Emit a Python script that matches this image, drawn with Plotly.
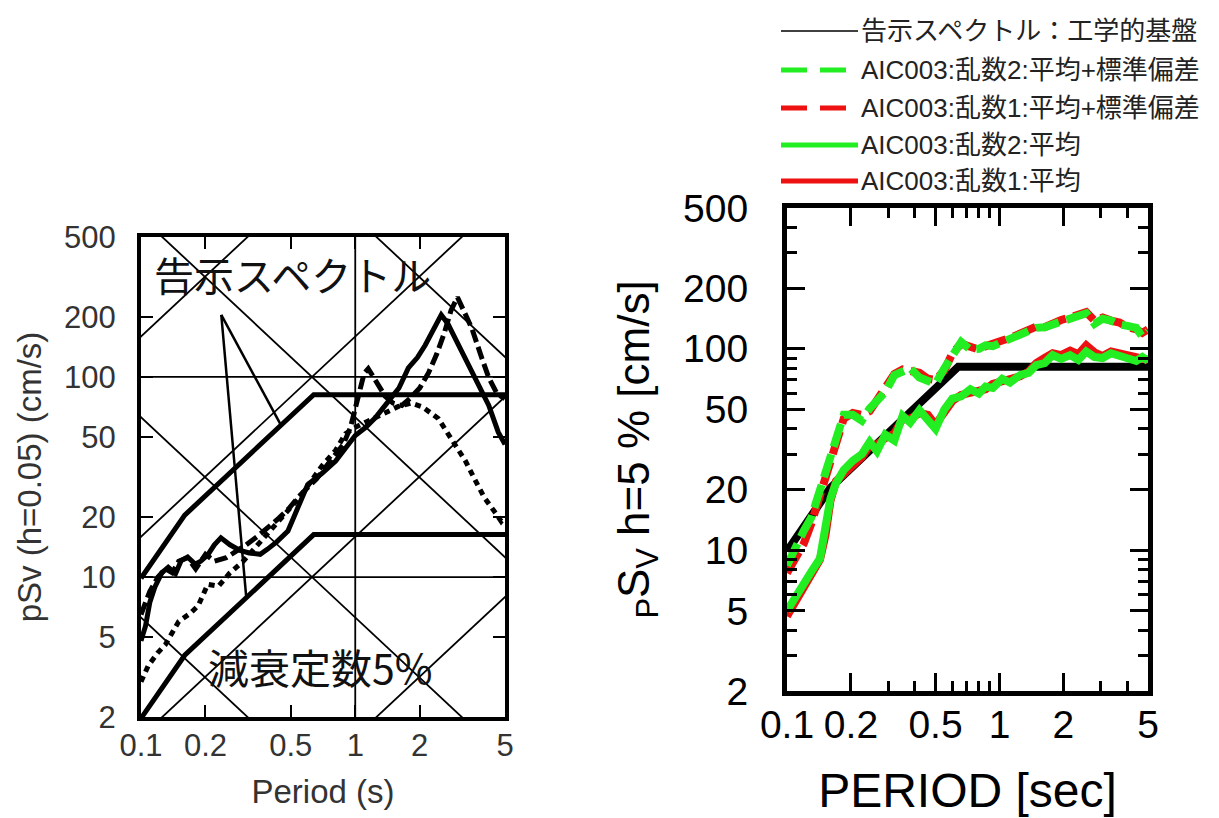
import math
import plotly.graph_objects as go

# ---------------- data: left panel (observed spectra, black) ----------------
T_L_SOLID = [0.1, 0.105, 0.11, 0.116, 0.125, 0.134, 0.145, 0.154, 0.165, 0.179, 0.19, 0.205,
             0.22, 0.236, 0.26, 0.29, 0.32, 0.36, 0.39, 0.43, 0.485, 0.54, 0.6, 0.7, 0.81, 0.9,
             1.0, 1.12, 1.24, 1.35, 1.47, 1.6, 1.77, 1.95, 2.12, 2.3, 2.52, 2.7, 3.03, 3.3, 3.6,
             3.9, 4.2, 4.65, 5.0]
SV_L_SOLID = [4.8, 5.7, 7.5, 8.9, 10.5, 11.2, 10.4, 12.1, 12.6, 11.6, 12.0, 12.9,
              14.5, 15.7, 14.5, 13.6, 13.2, 13.0, 13.8, 15.0, 17.0, 22.0, 29.0, 33.0, 38.0, 44.0,
              51.0, 56.0, 62.5, 70.0, 78.0, 88.0, 111.0, 125.0, 144.0, 170.0, 204.0, 185.0, 144.0, 120.0, 102.0,
              85.0, 72.0, 53.0, 46.0]

T_L_DASH = [0.1, 0.105, 0.11, 0.12, 0.13, 0.14, 0.15, 0.165, 0.18, 0.2, 0.22, 0.25, 0.28, 0.31,
            0.35, 0.4, 0.44, 0.49, 0.54, 0.6, 0.66, 0.72, 0.8, 0.88, 0.95, 1.0, 1.05, 1.1, 1.15,
            1.22, 1.3, 1.38, 1.5, 1.65, 1.8, 2.0, 2.2, 2.4, 2.6, 2.8, 3.0, 3.2, 3.5, 3.9, 4.2,
            4.6, 5.0]
SV_L_DASH = [6.5, 7.5, 8.5, 10.0, 11.0, 10.5, 12.0, 12.5, 11.0, 13.0, 12.0, 12.5, 13.5, 14.5,
             16.0, 18.0, 19.7, 22.0, 25.0, 28.0, 31.0, 35.0, 40.0, 46.0, 56.0, 70.0, 90.0, 104.0, 110.0,
             100.0, 90.0, 80.0, 74.0, 72.0, 78.0, 88.0, 105.0, 130.0, 165.0, 215.0, 250.0, 215.0, 175.0, 124.0, 99.0,
             82.0, 78.0]

T_L_DOT = [0.1, 0.108, 0.12, 0.13, 0.15, 0.17, 0.185, 0.205, 0.23, 0.26, 0.3, 0.34, 0.4, 0.47,
           0.55, 0.62, 0.7, 0.81, 0.9, 1.0, 1.19, 1.4, 1.58, 1.83, 2.05, 2.44, 2.93, 3.27, 3.6,
           4.0, 4.5, 4.8, 5.0]
SV_L_DOT = [3.0, 3.6, 4.2, 4.6, 6.0, 6.6, 7.2, 9.2, 9.0, 10.5, 12.0, 14.0, 17.0, 20.5,
            25.0, 30.0, 36.0, 43.0, 52.0, 56.0, 61.0, 66.0, 71.0, 74.0, 71.0, 62.0, 46.0, 38.0, 31.0,
            25.0, 21.0, 19.0, 20.0]

# 告示スペクトル (engineering bedrock), pSv [cm/s]
T_KOKUJI = [0.1, 0.12, 0.14, 0.16, 0.64, 5.0]
SV_KOKUJI_RARE = [9.87, 13.0, 16.5, 20.4, 81.5, 81.5]      # 極稀
SV_KOKUJI_MINOR = [1.97, 2.6, 3.3, 4.07, 16.3, 16.3]       # 稀

# tripartite guide lines
SD_LINES_CM = [0.1, 1, 10, 100]
SA_LINES_GAL = [10, 100, 1000, 10000]
T_GUIDE_EDGE = [0.05, 10.0]

# callout lines (annotation leader) in data coords
CALLOUT_T = [[0.237, 0.45], [0.237, 0.31]]
CALLOUT_SV = [[204, 57.4], [204, 7.9]]

# ---------------- data: right panel ----------------
T_R = [0.1, 0.11, 0.12, 0.13, 0.143, 0.152, 0.16, 0.17, 0.185, 0.204, 0.225, 0.245, 0.265, 0.29,
       0.32, 0.35, 0.38, 0.42, 0.46, 0.5, 0.55, 0.6, 0.66, 0.73, 0.8, 0.86, 0.93, 1.03, 1.12,
       1.25, 1.37, 1.49, 1.63, 1.78, 1.95, 2.15, 2.35, 2.56, 2.8, 3.06, 3.35, 3.67, 4.0, 4.4,
       4.7, 5.0]
SV_R2_MEAN = [5.0, 5.8, 6.8, 7.8, 9.1, 12.5, 18.0, 21.5, 25.0, 27.8, 30.0, 34.5, 31.0, 37.5,
              35.0, 46.5, 43.0, 49.6, 45.0, 40.0, 50.0, 56.6, 58.0, 63.0, 60.0, 65.0, 64.0, 71.0, 68.0,
              74.0, 76.0, 83.0, 85.0, 93.0, 89.0, 93.0, 88.0, 97.0, 91.0, 90.0, 95.0, 92.0, 90.0, 87.0,
              91.0, 87.0]
SV_R1_MEAN = [4.7, 5.6, 6.6, 7.6, 9.0, 12.0, 17.5, 22.0, 24.0, 26.5, 29.0, 33.0, 33.5, 36.0,
              38.0, 45.0, 45.0, 48.0, 47.0, 42.0, 48.0, 55.0, 59.0, 61.0, 62.0, 63.0, 67.0, 69.0, 72.0,
              73.0, 77.0, 85.0, 90.0, 95.0, 93.0, 98.0, 94.0, 104.0, 96.0, 92.0, 97.0, 95.0, 92.0, 90.0,
              88.0, 88.0]
SV_R2_MSD = [8.4, 10.5, 12.5, 14.5, 20.0, 24.0, 29.0, 35.0, 47.0, 47.0, 44.0, 50.6, 55.0, 61.0,
             74.0, 77.0, 80.0, 72.0, 70.0, 67.0, 80.0, 93.0, 108.0, 99.0, 100.0, 104.0, 103.0, 108.0, 112.0,
             118.0, 122.0, 127.0, 128.0, 132.0, 137.0, 141.0, 143.0, 150.0, 133.0, 141.0, 138.0, 132.0, 130.0, 127.0,
             115.0, 122.0]
SV_R1_MSD = [7.7, 9.4, 10.8, 13.5, 19.0, 22.5, 27.0, 34.0, 45.0, 48.0, 47.0, 49.0, 56.0, 64.0,
             75.0, 79.0, 78.0, 76.0, 71.0, 70.0, 78.0, 95.0, 106.0, 103.0, 99.0, 103.0, 107.0, 110.0, 113.0,
             118.0, 124.0, 129.0, 128.0, 134.0, 139.0, 143.0, 147.0, 152.0, 138.0, 143.0, 138.0, 135.0, 128.0, 125.0,
             120.0, 125.0]

TICKS_T = [0.1, 0.2, 0.5, 1, 2, 5]
TICKS_T_TEXT = ["0.1", "0.2", "0.5", "1", "2", "5"]
TICKS_SV = [2, 5, 10, 20, 50, 100, 200, 500]
TICKS_SV_TEXT = ["2", "5", "10", "20", "50", "100", "200", "500"]
MINOR_T = [0.3, 0.4, 0.6, 0.7, 0.8, 0.9, 3, 4]
MINOR_SV = [3, 4, 6, 7, 8, 9, 30, 40, 60, 70, 80, 90, 300, 400]

LEGEND_LABELS = ["告示スペクトル：工学的基盤", "AIC003:乱数2:平均+標準偏差",
                 "AIC003:乱数1:平均+標準偏差", "AIC003:乱数2:平均", "AIC003:乱数1:平均"]
LEGEND_COLORS = ["#000000", "#22ee22", "#ee1111", "#22ee22", "#ee1111"]
LEGEND_DASH = ["solid", "26px,13px", "26px,13px", "solid", "solid"]
LEGEND_WIDTH = [1.5, 5, 5, 5, 5]

W, H = 1219, 818
LATIN = "Liberation Sans, Arial, Helvetica, sans-serif"
CJK = "Liberation Sans, Noto Sans CJK JP, sans-serif"
GREEN = "#22ee22"
RED = "#ee1111"

fig = go.Figure()

# ---- left panel ----
def L(x, y, width, dash="solid", color="black"):
    fig.add_trace(go.Scatter(x=x, y=y, mode="lines", xaxis="x", yaxis="y",
                             line=dict(color=color, width=width, dash=dash),
                             showlegend=False, hoverinfo="skip"))

for sd in SD_LINES_CM:
    L(T_GUIDE_EDGE, [2 * math.pi * sd / t for t in T_GUIDE_EDGE], 1.8)
for sa in SA_LINES_GAL:
    L(T_GUIDE_EDGE, [sa * t / (2 * math.pi) for t in T_GUIDE_EDGE], 1.8)
for gv in [10, 100]:
    L([0.1, 5], [gv, gv], 1.8)
L([1, 1], [2, 500], 1.8)

L(T_KOKUJI, SV_KOKUJI_RARE, 5)
L(T_KOKUJI, SV_KOKUJI_MINOR, 5)
for cx, cy in zip(CALLOUT_T, CALLOUT_SV):
    L(cx, cy, 2.5)

L(T_L_DOT, SV_L_DOT, 5, dash="6px,5px")
L(T_L_DASH, SV_L_DASH, 5, dash="13px,5px")
L(T_L_SOLID, SV_L_SOLID, 5)

# ---- right panel ----
def R(x, y, width, color, dash="solid", name=None):
    fig.add_trace(go.Scatter(x=x, y=y, mode="lines", xaxis="x2", yaxis="y2", name=name,
                             line=dict(color=color, width=width, dash=dash),
                             showlegend=False))

R(T_KOKUJI, SV_KOKUJI_RARE, 8, "black", name=LEGEND_LABELS[0])
R(T_R, SV_R1_MEAN, 8, RED, name=LEGEND_LABELS[4])
R(T_R, SV_R2_MEAN, 8, GREEN, name=LEGEND_LABELS[3])
R(T_R, SV_R1_MSD, 8, RED, dash="24px,8px", name=LEGEND_LABELS[2])
R(T_R, SV_R2_MSD, 8, GREEN, dash="24px,8px", name=LEGEND_LABELS[1])

# ---- manual legend (top right) ----
ROW_Y = [23, 62, 100, 137, 173]
shapes = []
annotations = []
for lab, col, dsh, wd, ry in zip(LEGEND_LABELS, LEGEND_COLORS, LEGEND_DASH, LEGEND_WIDTH, ROW_Y):
    shapes.append(dict(type="line", xref="paper", yref="paper",
                       x0=773 / W, x1=850 / W, y0=1 - ry / H, y1=1 - ry / H,
                       line=dict(color=col, width=wd, dash=dsh)))
    annotations.append(dict(text=lab, xref="paper", yref="paper", x=851 / W, y=1 - ry / H,
                            xanchor="left", yanchor="middle", showarrow=False,
                            font=dict(family=CJK, size=26, color="#222222")))

annotations.append(dict(text="告示スペクトル", xref="paper", yref="paper", x=284 / W, y=1 - 266 / H,
                        xanchor="center", yanchor="middle", showarrow=False,
                        font=dict(family="Noto Sans CJK JP", size=40, color="#111111")))
annotations.append(dict(text="減衰定数5%", xref="paper", yref="paper", x=312 / W, y=1 - 658 / H,
                        xanchor="center", yanchor="middle", showarrow=False,
                        font=dict(family="Noto Sans CJK JP", size=41, color="#111111")))

common_log = dict(type="log", showgrid=False, zeroline=False, showline=True, linecolor="black",
                  mirror="ticks", ticks="inside", tickcolor="black")

fig.update_layout(
    width=W, height=H, template="none",
    paper_bgcolor="white", plot_bgcolor="white",
    margin=dict(l=0, r=0, t=0, b=0),
    showlegend=False,
    shapes=shapes, annotations=annotations,
    xaxis=dict(**common_log, domain=[133 / W, 497 / W], anchor="y",
               range=[-1, math.log10(5)], tickvals=TICKS_T, ticktext=TICKS_T_TEXT,
               ticklen=12, tickwidth=2, linewidth=4, automargin=False,
               tickfont=dict(family=LATIN, size=31, color="#333333"), ticklabelstandoff=-2,
               title=dict(text="Period (s)", font=dict(family=LATIN, size=33, color="#333333"),
                          standoff=19)),
    yaxis=dict(**common_log, domain=[1 - 709 / H, 1 - 229 / H], anchor="x",
               range=[math.log10(2), math.log10(500)], tickvals=TICKS_SV, ticktext=TICKS_SV_TEXT,
               ticklen=12, tickwidth=2, linewidth=4, automargin=False,
               tickfont=dict(family=LATIN, size=31, color="#333333"), ticklabelstandoff=15,
               title=dict(text="pSv (h=0.05) (cm/s)", font=dict(family=LATIN, size=33, color="#333333"),
                          standoff=14)),
    xaxis2=dict(**common_log, domain=[779 / W, 1140 / W], anchor="y2",
                range=[-1, math.log10(5)], tickvals=TICKS_T, ticktext=TICKS_T_TEXT,
                ticklen=18, tickwidth=3, linewidth=5, automargin=False,
                minor=dict(tickvals=MINOR_T, ticks="inside", ticklen=10, tickwidth=3, tickcolor="black"),
                tickfont=dict(family=LATIN, size=39, color="black"), ticklabelstandoff=-5,
                title=dict(text="PERIOD [sec]", font=dict(family=LATIN, size=48, color="black"),
                           standoff=30)),
    yaxis2=dict(**common_log, domain=[1 - 683 / H, 1 - 200 / H], anchor="x2",
                range=[math.log10(2), math.log10(500)], tickvals=TICKS_SV, ticktext=TICKS_SV_TEXT,
                ticklen=18, tickwidth=3, linewidth=5, automargin=False,
                minor=dict(tickvals=MINOR_SV, ticks="inside", ticklen=10, tickwidth=3, tickcolor="black"),
                tickfont=dict(family=LATIN, size=39, color="black"), ticklabelstandoff=26,
                title=dict(text="<sub>P</sub>S<sub>V</sub> h=5 % [cm/s]",
                           font=dict(family=LATIN, size=44, color="black"), standoff=21)),
)

fig.write_html("out.html")
